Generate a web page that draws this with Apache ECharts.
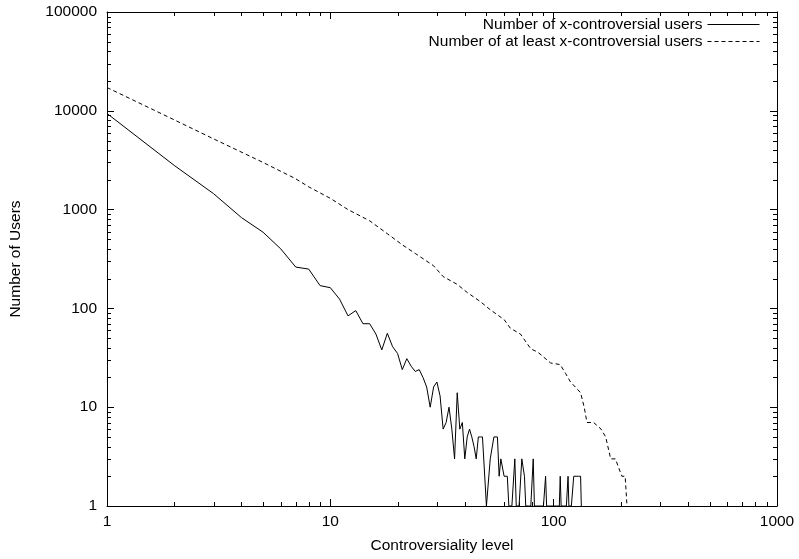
<!DOCTYPE html>
<html>
<head>
<meta charset="utf-8">
<script src="https://cdn.jsdelivr.net/npm/echarts@6/dist/echarts.min.js"></script>
<style>
html,body{margin:0;padding:0;background:#fff;}
#chart{width:799px;height:559px;}
</style>
</head>
<body>
<div id="chart"></div>
<script>
// Number of x-controversial users (solid)
const levels = [1,2,3,4,5,6,7,8,9,10,11,12,13,14,15,16,17,18,19,20,
  21,22,23,24,25,26,27,28,29,30,31,32,33,34,35,36,37,38,39,40,
  41,42,43,44,45,46,47,48,49,50,51,52,53,54,55,56,57,58,59,60,
  61,62,63,64,65,66,67,68,69,70,71,72,73,74,75,76,77,78,79,80,
  81,82,83,84,85,86,87,88,89,90,91,92,93,94,95,96,97,98,99,100,
  101,102,103,104,105,106,107,108,109,110,111,112,113,114,115,116,117,118,119,120,
  121,122,123,124,125,126,127,128,129,130,131,132,133];
const users = [9400,2800,1450,830,590,400,262,250,170,162,124,84,95,70,70,55,38,56,41,35,
  24,31,26,23,24,20,16,10,16,18,13,6,7,10,6,3,14,6,7,3,
  5,6,5,4,3,5,5,5,5,1,1,3,3,5,5,5,2,3,3,2,
  2,2,1,1,1,1,3,1,1,1,1,3,3,2,1,1,1,1,1,1,
  3,1,1,1,1,1,1,1,1,1,1,2,1,1,1,1,1,1,1,1,
  1,1,1,1,1,1,2,1,1,1,1,1,1,1,1,2,1,1,1,1,
  1,1,2,2,2,2,2,2,2,2,2,2,1];

// Number of at least x-controversial users (dashed)
const cumLevels = [1,2,3,5,7,8,10,12,15,18,21,24,29,32,37,41,47,52,60,64,71,79,85,97,107,113,119,125,132,137,141,151,163,171,180,189,202,209,213];
const cumUsers  = [17200,8100,5200,3000,2050,1700,1300,1000,770,570,440,360,270,210,175,145,117,97,77,63,55,39,36,28,27,22,18,16,14,10,7,7,6,5,3,3,2,2,1];

// axis ticks
const xMajorLabels = [1,10,100,1000];
const yMajorLabels = [1,10,100,1000,10000,100000];
const xMinorTicks = [2,3,4,5,6,7,8,9,20,30,40,50,60,70,80,90,200,300,400,500,600,700,800,900];
const yMinorTicks = [2,3,4,5,6,7,8,9,20,30,40,50,60,70,80,90,200,300,400,500,600,700,800,900,
  2000,3000,4000,5000,6000,7000,8000,9000,20000,30000,40000,50000,60000,70000,80000,90000];

const FONT = "'Liberation Sans', Arial, Helvetica, sans-serif";
const FS = 15.5;
const seriesNames = ['Number of x-controversial users', 'Number of at least x-controversial users'];

const chart = echarts.init(document.getElementById('chart'), null, {renderer:'canvas'});

function lineEl(x1,y1,x2,y2){
  return {type:'line', shape:{x1:x1,y1:y1,x2:x2,y2:y2}, style:{stroke:'#000', lineWidth:1}};
}

const axisCommon = {
  type:'log', logBase:10,
  axisLine:{show:true, lineStyle:{color:'#000', width:1}},
  axisTick:{show:true, inside:true, length:7, lineStyle:{color:'#000', width:1}},
  splitLine:{show:false},
  minorTick:{show:false},
  minorSplitLine:{show:false}
};

const option = {
  backgroundColor:'#fff',
  animation:false,
  grid:{left:107, right:22, top:12, bottom:51, containLabel:false},
  legend:{
    data:seriesNames,
    orient:'vertical',
    align:'right',
    right:39, top:16,
    itemWidth:52, itemHeight:17, itemGap:0,
    padding:0,
    itemStyle:{opacity:0},
    lineStyle:{width:1},
    textStyle:{fontFamily:FONT, fontSize:FS, color:'#000', lineHeight:17},
    selectedMode:false
  },
  xAxis:[
    Object.assign({}, axisCommon, {
      position:'bottom', min:1, max:1000,
      name:'Controversiality level', nameLocation:'middle', nameGap:32,
      nameTextStyle:{fontFamily:FONT, fontSize:FS, color:'#000'},
      axisLabel:{show:true, margin:8, fontFamily:FONT, fontSize:FS, color:'#000',
        formatter:v => String(xMajorLabels.find(t => Math.abs(t - v) / t < 1e-6) ?? Math.round(v))}
    }),
    Object.assign({}, axisCommon, {
      position:'top', min:1, max:1000, axisLabel:{show:false}
    })
  ],
  yAxis:[
    Object.assign({}, axisCommon, {
      position:'left', min:1, max:100000,
      name:'Number of Users', nameLocation:'middle', nameGap:83,
      nameTextStyle:{fontFamily:FONT, fontSize:FS, color:'#000'},
      axisLabel:{show:true, margin:10, fontFamily:FONT, fontSize:FS, color:'#000',
        formatter:v => String(yMajorLabels.find(t => Math.abs(t - v) / t < 1e-6) ?? Math.round(v))}
    }),
    Object.assign({}, axisCommon, {
      position:'right', min:1, max:100000, axisLabel:{show:false}
    })
  ],
  series:[
    {
      name:seriesNames[0], type:'line', xAxisIndex:0, yAxisIndex:0,
      data:levels.map((x,i)=>[x, users[i]]),
      symbol:'none', showSymbol:false, clip:true,
      lineStyle:{color:'#000', width:1, type:'solid'},
      itemStyle:{color:'#000'}
    },
    {
      name:seriesNames[1], type:'line', xAxisIndex:0, yAxisIndex:0,
      data:cumLevels.map((x,i)=>[x, cumUsers[i]]),
      symbol:'none', showSymbol:false, clip:true,
      lineStyle:{color:'#000', width:1, type:[4,3]},
      itemStyle:{color:'#000'}
    },
    {
      name:'xminor', type:'custom', xAxisIndex:0, yAxisIndex:0, silent:true, clip:false,
      data:xMinorTicks.map(v=>[v,1]),
      renderItem:function(params, api){
        const p = api.coord([api.value(0), 1]);
        const cs = params.coordSys;
        const x = Math.round(p[0]) + 0.5;
        const yb = cs.y + cs.height, yt = cs.y;
        return {type:'group', children:[lineEl(x,yb,x,yb-4), lineEl(x,yt,x,yt+4)]};
      }
    },
    {
      name:'yminor', type:'custom', xAxisIndex:0, yAxisIndex:0, silent:true, clip:false,
      data:yMinorTicks.map(v=>[1,v]),
      renderItem:function(params, api){
        const p = api.coord([1, api.value(1)]);
        const cs = params.coordSys;
        const y = Math.round(p[1]) + 0.5;
        const xl = cs.x, xr = cs.x + cs.width;
        return {type:'group', children:[lineEl(xl,y,xl+4,y), lineEl(xr,y,xr-4,y)]};
      }
    }
  ]
};
chart.setOption(option);
</script>
</body>
</html>
